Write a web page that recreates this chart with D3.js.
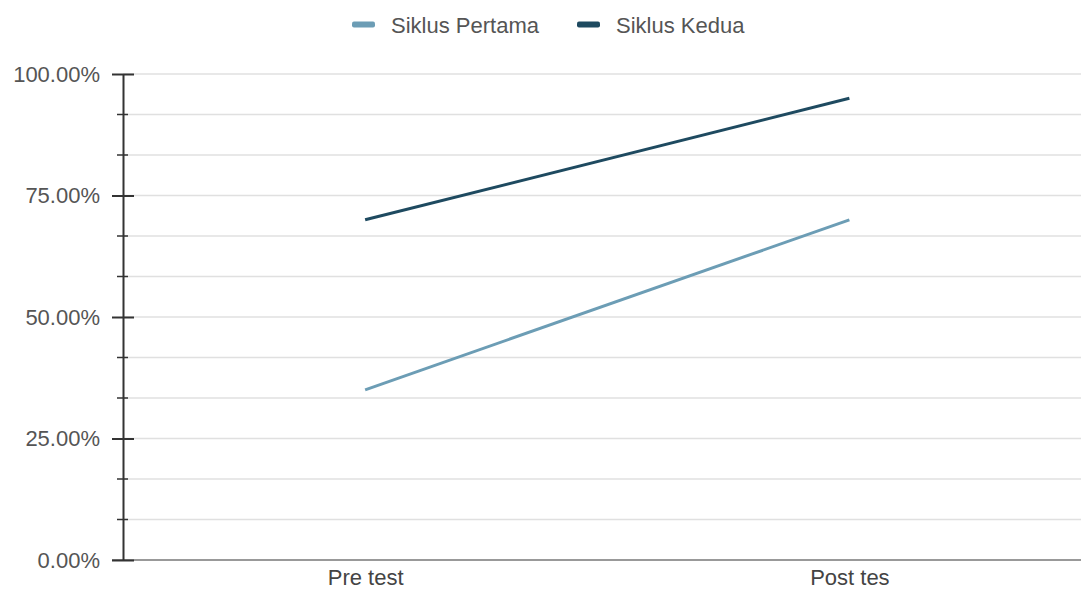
<!DOCTYPE html>
<html><head><meta charset="utf-8">
<script src="https://d3js.org/d3.v7.min.js"></script>
<style>body{margin:0;background:#fff;font-family:Arial,"Liberation Sans",sans-serif}</style>
</head><body><svg id="c" width="1081" height="591"></svg>
<script>
const categories = ["Pre test", "Post tes"];
const seriesNames = ["Siklus Pertama", "Siklus Kedua"];
const siklusPertama = [0.35, 0.70];
const siklusKedua = [0.70, 0.95];
const yTickLabels = ["0.00%", "25.00%", "50.00%", "75.00%", "100.00%"];
const colors = ["#6c9db5", "#1e4a60"];

(function () {
const svg = d3.select("#c");
const FONT = "Arial, 'Liberation Sans', sans-serif";
const mLeft = 123, mRight = 1091.5, mTop = 74, mBottom = 560;
const x = d3.scalePoint().domain(categories).range([mLeft, mRight]).padding(0.5);
const y = d3.scaleLinear().domain([0, 1]).range([mBottom, mTop]);

const gridVals = d3.range(0, 13).map(i => i / 12);
svg.append("g").selectAll("line").data(gridVals).join("line")
  .attr("x1", mLeft).attr("x2", 1081)
  .attr("y1", d => y(d)).attr("y2", d => y(d))
  .attr("stroke", "#e0e0e0").attr("stroke-width", 1.5);

// minor ticks
svg.append("g").selectAll("line").data(gridVals.filter((d, i) => i % 3 !== 0)).join("line")
  .attr("x1", mLeft - 6).attr("x2", mLeft + 5)
  .attr("y1", d => y(d)).attr("y2", d => y(d))
  .attr("stroke", "#333").attr("stroke-width", 1.5);

// bottom axis line
svg.append("line").attr("x1", mLeft - 11).attr("x2", 1081)
  .attr("y1", mBottom).attr("y2", mBottom).attr("stroke", "#999").attr("stroke-width", 2);

// y axis
const yAxis = d3.axisLeft(y).tickValues([0, 0.25, 0.5, 0.75, 1])
  .tickFormat((d, i) => yTickLabels[i]).tickSize(11).tickPadding(12).tickSizeOuter(0);
const gy = svg.append("g").attr("transform", `translate(${mLeft},0)`).call(yAxis);
gy.select(".domain").attr("stroke", "#333").attr("stroke-width", 2);
gy.selectAll(".tick line").attr("stroke", "#333").attr("stroke-width", 2).attr("x2", -11).clone().attr("x2", 11);
gy.selectAll("text").attr("fill", "#555").style("font-size", "22px").style("font-family", FONT);

// x axis labels
const xAxis = d3.axisBottom(x).tickSize(0).tickPadding(9);
const gx = svg.append("g").attr("transform", `translate(0,${mBottom})`).call(xAxis);
gx.select(".domain").remove();
gx.selectAll("text").attr("fill", "#444").style("font-size", "22px").style("font-family", FONT);

// lines
const line = d3.line().x((d, i) => x(categories[i])).y(d => y(d));
[siklusPertama, siklusKedua].forEach((s, k) => {
  svg.append("path").datum(s).attr("d", line).attr("fill", "none")
    .attr("stroke", colors[k]).attr("stroke-width", 3);
});

// legend
const legendX = [352, 577];
const lg = svg.append("g");
seriesNames.forEach((n, k) => {
  lg.append("rect").attr("x", legendX[k]).attr("y", 21.5).attr("width", 23).attr("height", 6)
    .attr("rx", 2).attr("fill", colors[k]);
  lg.append("text").attr("x", legendX[k] + 39).attr("y", 33).text(n)
    .attr("fill", "#555").style("font-size", "22px").style("font-family", FONT);
});
})();
</script></body></html>
